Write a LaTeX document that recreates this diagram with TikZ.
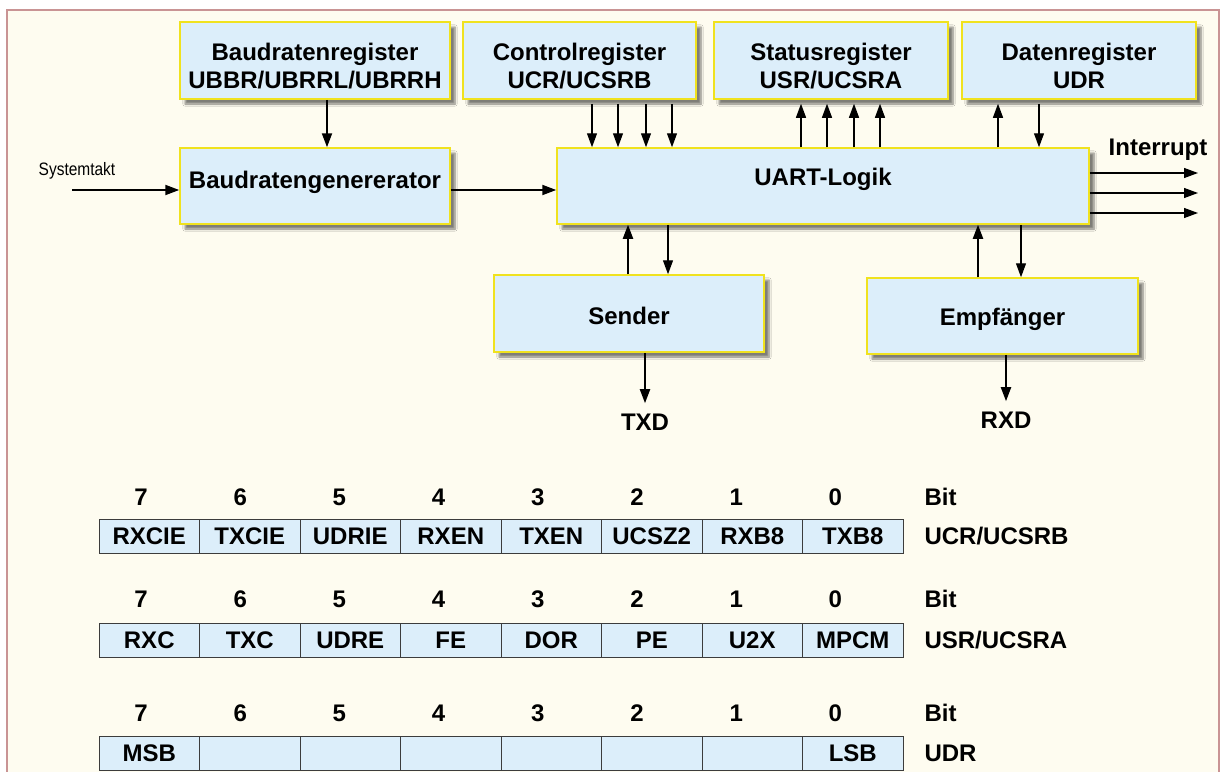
\documentclass[tikz,border=0pt]{standalone}
\usepackage{fontspec}
\setmainfont{Liberation Sans}
\newfontfamily\narrowfont[FakeStretch=0.86]{Liberation Sans}
\usetikzlibrary{arrows.meta,shadows.blur}
\definecolor{boxblue}{HTML}{DCEEFA}
\definecolor{boxyellow}{HTML}{F0E21E}
\definecolor{cream}{HTML}{FEFCF0}
\definecolor{framered}{HTML}{C99494}
\definecolor{celledge}{HTML}{3C3C3C}
\tikzset{
    boxfont/.style={font=\fontsize{24}{28}\selectfont\bfseries},
    regbox/.style={boxfont, draw=boxyellow, fill=boxblue, line width=1.5pt,
        align=center, inner sep=0pt,
        blur shadow={shadow xshift=5pt, shadow yshift=-5pt, shadow blur steps=6, shadow opacity=50}},
    topbox/.style={regbox, minimum height=77pt, text height=57pt, text depth=2pt},
    bitcell/.style={boxfont, draw=celledge, fill=boxblue, line width=1pt,
        minimum width=100.5pt, minimum height=34pt, inner sep=0pt},
    bigarrow/.style={->, line width=2pt},
    smallarrow/.style={->, line width=1.2pt},
    >={Triangle[length=14pt,width=10pt]}
}

\begin{document}
\begin{tikzpicture}[x=1pt,y=-1pt]
    \useasboundingbox (0,0) rectangle (1223,771);
    \fill[white] (0,0) rectangle (1223,771);
    \draw[framered, line width=2pt, fill=cream] (7,10) rectangle (1219,800);

    % registers and blocks
    \node[topbox, minimum width=270pt] (baudreg) at (315,60.5) {Baudratenregister\\UBBR/UBRRL/UBRRH};
    \node[topbox, minimum width=233pt] (ctrlreg) at (579.5,60.5) {Controlregister\\UCR/UCSRB};
    \node[topbox, minimum width=234pt] (statreg) at (831,60.5) {Statusregister\\USR/UCSRA};
    \node[topbox, minimum width=234pt] (datreg) at (1079,60.5) {Datenregister\\UDR};
    \node[regbox, minimum width=270pt, minimum height=76pt, text height=16pt, text depth=12pt] (baudgen) at (315,186) {Baudratengenererator};
    \node[regbox, minimum width=532pt, minimum height=76pt, text height=16pt, text depth=18pt] (uart) at (823,186) {UART-Logik};
    \node[regbox, minimum width=270pt, minimum height=77pt, text height=26pt, text depth=5pt] (sender) at (629,313.5) {Sender};
    \node[regbox, minimum width=271pt, minimum height=76pt, text height=24pt, text depth=6pt] (empf) at (1002.5,316) {Empfänger};

    % inputs and outputs
    \node[font=\fontsize{18}{21}\narrowfont] (takt) at (77,171) {Systemtakt};
    \coordinate (taktin) at (72,190);
    \draw[bigarrow] (taktin) -- (taktin -| baudgen.west);
    \draw[bigarrow] ([xshift=12pt]baudreg.south) -- ([xshift=12pt]baudgen.north);
    \draw[bigarrow] ([yshift=-4pt]baudgen.east) -- ([yshift=-4pt]baudgen.east -| uart.west);

    \foreach \x in {592,618,646,672}
        \draw[smallarrow, shorten <=4pt] (ctrlreg.south -| \x,0) -- (uart.north -| \x,0);
    \foreach \x in {801,827,854,880}
        \draw[smallarrow, shorten >=4pt] (uart.north -| \x,0) -- (statreg.south -| \x,0);
    \draw[smallarrow, shorten >=4pt] (uart.north -| 998,0) -- (datreg.south -| 998,0);
    \draw[smallarrow, shorten <=4pt] (datreg.south -| 1039,0) -- (uart.north -| 1039,0);

    \node[boxfont] (irq) at (1158,150) {Interrupt};
    \foreach \y in {173,193,213}
    {
        \coordinate (irqend) at (1198,\y);
        \draw[smallarrow] (uart.east |- irqend) -- (irqend);
    }

    \draw[bigarrow] (sender.north -| 628,0) -- (uart.south -| 628,0);
    \draw[smallarrow] (uart.south -| 668,0) -- (sender.north -| 668,0);
    \node[boxfont] (txd) at (645,422) {TXD};
    \draw[bigarrow, shorten >=7pt] (sender.south -| txd.north) -- (txd.north);

    \draw[bigarrow] (empf.north -| 978,0) -- (uart.south -| 978,0);
    \draw[smallarrow] (uart.south -| 1021,0) -- (empf.north -| 1021,0);
    \node[boxfont] (rxd) at (1006,420) {RXD};
    \draw[bigarrow, shorten >=7pt] (empf.south -| rxd.north) -- (rxd.north);

    % bit tables
    \begin{scope}[shift={(0,536)}]
        \foreach \lbl [count=\i from 0] in {RXCIE,TXCIE,UDRIE,RXEN,TXEN,UCSZ2,RXB8,TXB8}
        {
            \pgfmathtruncatemacro{\b}{7-\i}
            \node[boxfont] (ucrbit\i) at ({141+99.2*\i},-39) {\b};
            \node[bitcell] (ucr\i) at ({149.25+100.5*\i},0) {\lbl};
        }
        \node[boxfont, anchor=west] (ucrbit) at (921,-39) {Bit};
        \node[boxfont, anchor=west] (ucrname) at (921,0) {UCR/UCSRB};
    \end{scope}

    \begin{scope}[shift={(0,640)}]
        \foreach \lbl [count=\i from 0] in {RXC,TXC,UDRE,FE,DOR,PE,U2X,MPCM}
        {
            \pgfmathtruncatemacro{\b}{7-\i}
            \node[boxfont] (usrbit\i) at ({141+99.2*\i},-41) {\b};
            \node[bitcell] (usr\i) at ({149.25+100.5*\i},0) {\lbl};
        }
        \node[boxfont, anchor=west] (usrbit) at (921,-41) {Bit};
        \node[boxfont, anchor=west] (usrname) at (921,0) {USR/UCSRA};
    \end{scope}

    \begin{scope}[shift={(0,753)}]
        \foreach \lbl [count=\i from 0] in {MSB,{},{},{},{},{},{},LSB}
        {
            \pgfmathtruncatemacro{\b}{7-\i}
            \node[boxfont] (udrbit\i) at ({141+99.2*\i},-40) {\b};
            \node[bitcell] (udr\i) at ({149.25+100.5*\i},0) {\lbl};
        }
        \node[boxfont, anchor=west] (udrbit) at (921,-40) {Bit};
        \node[boxfont, anchor=west] (udrname) at (921,0) {UDR};
    \end{scope}
\end{tikzpicture}
\end{document}
